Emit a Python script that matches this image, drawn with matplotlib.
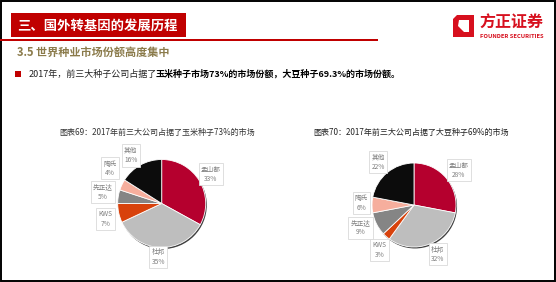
import numpy as np
import matplotlib.pyplot as plt
from matplotlib.patches import Rectangle, Polygon, Circle

plt.rcParams['font.family'] = ['Noto Sans CJK SC', 'DejaVu Sans']

# data
companies = ['孟山都', '杜邦', 'KWS', '先正达', '陶氏', '其他']
corn_share = [33, 35, 7, 5, 4, 16]
soy_share = [28, 32, 3, 9, 6, 22]
colors = ['#B5002E', '#BEBEBE', '#D8420C', '#858585', '#F6AE9D', '#0C0C0C']

title_main = '三、国外转基因的发展历程'
subtitle = '3.5 世界种业市场份额高度集中'
bullet_a = '2017年，前三大种子公司占据了'
bullet_b = '玉米种子市场73%的市场份额，大豆种子69.3%的市场份额。'
corn_title = '图表69：2017年前三大公司占据了玉米种子73%的市场'
soy_title = '图表70：2017年前三大公司占据了大豆种子69%的市场'

# label placement tweaks (angle shift in degrees, distance in radii)
corn_lab = [(0, 1.3), (-2, 1.22), (3, 1.32), (-2, 1.36), (-9, 1.42), (4, 1.3)]
soy_lab = [(-2, 1.35), (4, 1.3), (4, 1.35), (-4, 1.38), (-2, 1.25), (0, 1.33)]

W, H = 556, 282
fig = plt.figure(figsize=(W / 100, H / 100), dpi=100)
bg = fig.add_axes([0, 0, 1, 1])
bg.set_xlim(0, W)
bg.set_ylim(H, 0)
bg.axis('off')

# slide frame
bg.add_patch(Rectangle((0.8, 0.8), W - 1.8, H - 1.8, fill=False, ec='black', lw=1.4))

# header bar
bg.add_patch(Rectangle((0, 38.5), 378, 2.2, color='#C00000', lw=0))
bg.add_patch(Rectangle((10.5, 13), 175, 24, color='#C00000', lw=0))
bg.text(17, 25.5, title_main, color='white', fontsize=9.6, fontweight='bold', va='center', ha='left')

# logo
bg.add_patch(Polygon([(457, 15), (474, 15), (474, 37), (453, 37), (453, 19)], closed=True, color='#D7101E', lw=0))
bg.add_patch(Polygon([(459, 20), (469, 20), (469, 32), (464, 32), (458, 26)], closed=True, color='white', lw=0))
bg.text(479, 23, '方正证券', color='#D7101E', fontsize=11.5, fontweight='bold', va='center', ha='left')
bg.text(479.5, 36.5, 'FOUNDER SECURITIES', color='#D7101E', fontsize=4.2, fontweight='bold', va='center', ha='left')

bg.text(17, 52, subtitle, color='#8B7B4B', fontsize=8, fontweight='bold', va='center', ha='left')

bg.add_patch(Rectangle((15, 70.5), 6, 6, color='#C00000', lw=0))
t1 = bg.text(29, 74, bullet_a, color='#222222', fontsize=6.5, va='center', ha='left')
bg.annotate(bullet_b, xy=(1, 0.5), xycoords=t1, xytext=(-1.5, 0), textcoords='offset points',
            va='center', ha='left', fontsize=6.5, fontweight='bold', color='black')

bg.text(157, 132, corn_title, color='#333333', fontsize=5.8, va='center', ha='center')
bg.text(411, 132, soy_title, color='#222222', fontsize=5.8, va='center', ha='center')


def draw_pie(cx, cy, r, shares, lab):
    half = 2.2 * r
    ax = fig.add_axes([(cx - half) / W, (H - cy - half) / H, 2 * half / W, 2 * half / H])
    ax.axis('off')
    ax.add_patch(Circle((0.025, -0.035), 1.0, color='#404040', lw=0, zorder=0))
    labels = [f'{n}\n{v}%' for n, v in zip(companies, shares)]
    wedges, texts = ax.pie(shares, colors=colors, startangle=90, counterclock=False,
                           labels=labels, labeldistance=1.3, radius=1,
                           wedgeprops=dict(edgecolor='white', linewidth=0.6),
                           textprops=dict(fontsize=4.8, color='#7F7F7F', linespacing=1.25),
                           frame=False)
    ax.set_xlim(-2.2, 2.2)
    ax.set_ylim(-2.2, 2.2)
    for w, t, (da, d) in zip(wedges, texts, lab):
        ang = np.deg2rad((w.theta1 + w.theta2) / 2 + da)
        t.set_position((d * np.cos(ang), d * np.sin(ang)))
        t.set_ha('center')
        t.set_va('center')
        t.set_multialignment('center')
        t.set_bbox(dict(boxstyle='square,pad=0.35', fc='white', ec='#D9D9D9', lw=0.6))
    return ax


draw_pie(161.7, 203.5, 44, corn_share, corn_lab)
draw_pie(414, 205, 42, soy_share, soy_lab)

fig.savefig('out.png', dpi=100)
